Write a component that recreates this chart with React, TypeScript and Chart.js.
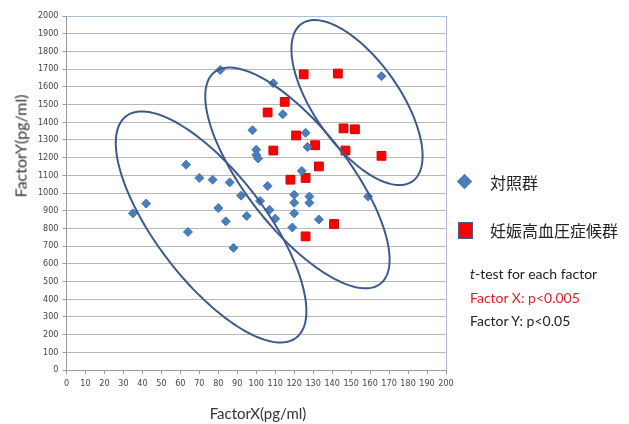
import React, { useEffect, useRef } from "react";
import { Chart, registerables } from "chart.js";

Chart.register(...registerables);

// Control group (対照群)
const controlX = [35, 42, 63, 64, 70, 77, 80, 84, 86, 88, 92, 95, 98, 100, 100, 101, 102, 106, 107, 110, 109, 114, 81, 119, 120, 120, 120, 124, 126, 127, 128, 128, 133, 159, 166];
const controlY = [885, 940, 1160, 780, 1085, 1075, 915, 840, 1060, 690, 985, 870, 1355, 1245, 1215, 1195, 955, 1040, 905, 855, 1620, 1445, 1695, 805, 990, 945, 885, 1125, 1340, 1260, 980, 945, 850, 980, 1660];

// Pregnancy-induced hypertension group (妊娠高血圧症候群)
const pihX = [125, 143, 115, 106, 146, 152, 121, 131, 109, 147, 166, 133, 118, 126, 141, 126];
const pihY = [1670, 1675, 1515, 1455, 1365, 1360, 1325, 1270, 1240, 1240, 1210, 1150, 1075, 1085, 825, 755];

// Ellipses in data units: centre and two conjugate semi-diameters
const ellipseCX = [76.2, 121.7, 153.1];
const ellipseCY = [808, 1085, 1511];
const ellipseUX = [44.8, 43.7, 29.2];
const ellipseUY = [-626, -598, -445];
const ellipseVX = [-22.7, -21.2, -18.5];
const ellipseVY = [-185, -177, -139];

const xTickMin = 0;
const xTickMax = 200;
const xTickStep = 10;
const yTickMin = 0;
const yTickMax = 2000;
const yTickStep = 100;

const ellipsePlugin = {
  id: "ellipses",
  afterDatasetsDraw(chart: any) {
    const { ctx, scales } = chart;
    const xs = scales.x;
    const ys = scales.y;
    ctx.save();
    ctx.strokeStyle = "#3c5a8a";
    ctx.lineWidth = 2;
    for (let i = 0; i < ellipseCX.length; i++) {
      ctx.beginPath();
      const n = 160;
      for (let k = 0; k <= n; k++) {
        const t = (k / n) * Math.PI * 2;
        const dx = ellipseCX[i] + ellipseUX[i] * Math.cos(t) + ellipseVX[i] * Math.sin(t);
        const dy = ellipseCY[i] + ellipseUY[i] * Math.cos(t) + ellipseVY[i] * Math.sin(t);
        const px = xs.getPixelForValue(dx);
        const py = ys.getPixelForValue(dy);
        if (k === 0) ctx.moveTo(px, py);
        else ctx.lineTo(px, py);
      }
      ctx.closePath();
      ctx.stroke();
    }
    ctx.restore();
  },
};

const borderPlugin = {
  id: "rightBorder",
  beforeDatasetsDraw(chart: any) {
    const { ctx, chartArea } = chart;
    ctx.save();
    ctx.strokeStyle = "#a9bedb";
    ctx.lineWidth = 1;
    ctx.beginPath();
    ctx.moveTo(Math.round(chartArea.right) + 0.5, chartArea.top);
    ctx.lineTo(Math.round(chartArea.right) + 0.5, chartArea.bottom);
    ctx.stroke();
    ctx.restore();
  },
};

export default function App() {
  const ref = useRef<HTMLCanvasElement | null>(null);

  useEffect(() => {
    if (!ref.current) return;
    const tickFont = { family: "'Liberation Sans Narrow', 'DejaVu Sans Condensed', sans-serif", size: 9 };
    const chart = new Chart(ref.current, {
      type: "scatter",
      data: {
        datasets: [
          {
            label: "対照群",
            data: controlX.map((x, i) => ({ x, y: controlY[i] })),
            pointStyle: "rectRot",
            radius: 4.5,
            backgroundColor: "#4a7ebb",
            borderColor: "#4578b5",
            borderWidth: 1,
          },
          {
            label: "妊娠高血圧症候群",
            data: pihX.map((x, i) => ({ x, y: pihY[i] })),
            pointStyle: "rect",
            radius: 6.2,
            backgroundColor: "#ff0000",
            borderColor: "#d00000",
            borderWidth: 1,
          },
        ],
      },
      options: {
        responsive: false,
        animation: false,
        layout: { padding: { left: 0, right: 183, top: 16, bottom: 0 } },
        plugins: { legend: { display: false }, tooltip: { enabled: false } },
        scales: {
          x: {
            type: "linear",
            min: xTickMin,
            max: xTickMax,
            ticks: {
              stepSize: xTickStep,
              font: tickFont,
              color: "#444",
              padding: 4,
              maxRotation: 0,
              autoSkip: false,
              callback: (v: any) => String(v),
            },
            grid: { drawOnChartArea: false, drawTicks: true, tickLength: 4, tickColor: "#9a9a9a" },
            border: { color: "#9a9a9a", width: 1 },
            afterFit(scale: any) {
              scale.height = 54;
            },
          },
          y: {
            type: "linear",
            min: yTickMin,
            max: yTickMax,
            ticks: {
              stepSize: yTickStep,
              font: tickFont,
              color: "#444",
              padding: 4,
              autoSkip: false,
              callback: (v: any) => String(v),
            },
            grid: {
              color: (c: any) => (c.tick && c.tick.value === yTickMax ? "#a9bedb" : "#b8b8b8"),
              lineWidth: 1,
              drawTicks: true,
              tickLength: 4,
              tickColor: "#9a9a9a",
            },
            border: { color: "#9a9a9a", width: 1 },
            afterFit(scale: any) {
              scale.width = 66.5;
            },
          },
        },
      },
      plugins: [borderPlugin, ellipsePlugin],
    });
    return () => chart.destroy();
  }, []);

  const textFont = "Lato, 'Open Sans', sans-serif";
  const cjkFont = "'Noto Sans CJK JP', 'Noto Sans CJK SC', sans-serif";

  return (
    <div style={{ position: "fixed", left: 0, top: 0, width: 629, height: 424, background: "#fff", overflow: "hidden" }}>
      <canvas ref={ref} width={629} height={424} style={{ position: "absolute", left: 0, top: 0, width: 629, height: 424 }} />
      {/* Y axis title */}
      <div
        style={{
          position: "absolute",
          left: 20,
          top: 146,
          transform: "translate(-50%, -50%) rotate(-90deg)",
          fontFamily: textFont,
          fontSize: 16,
          fontWeight: 400,
          color: "#333",
          whiteSpace: "nowrap",
        }}
      >
        FactorY(pg/ml)
      </div>
      {/* X axis title */}
      <div
        style={{
          position: "absolute",
          left: 258,
          top: 413,
          transform: "translate(-50%, -50%)",
          fontFamily: textFont,
          fontSize: 15,
          fontWeight: 400,
          color: "#333",
          whiteSpace: "nowrap",
        }}
      >
        FactorX(pg/ml)
      </div>
      {/* Legend */}
      <div style={{ position: "absolute", left: 459, top: 176, width: 11, height: 11, background: "#4a7ebb", transform: "rotate(45deg)" }} />
      <div style={{ position: "absolute", left: 490, top: 182, transform: "translateY(-50%)", fontFamily: cjkFont, fontSize: 16, color: "#222", whiteSpace: "nowrap" }}>
        対照群
      </div>
      <div style={{ position: "absolute", left: 458, top: 222, width: 13, height: 15, background: "#ff0000", border: "1.5px solid #4a5a82" }} />
      <div style={{ position: "absolute", left: 490, top: 230, transform: "translateY(-50%)", fontFamily: cjkFont, fontSize: 16, color: "#222", whiteSpace: "nowrap" }}>
        妊娠高血圧症候群
      </div>
      {/* Stats text */}
      <div style={{ position: "absolute", left: 470, top: 273, transform: "translateY(-50%)", fontFamily: textFont, fontSize: 14, color: "#222", whiteSpace: "nowrap" }}>
        <i>t</i>-test for each factor
      </div>
      <div style={{ position: "absolute", left: 470, top: 297, transform: "translateY(-50%)", fontFamily: textFont, fontSize: 14, color: "#d9232b", whiteSpace: "nowrap" }}>
        Factor X: p&lt;0.005
      </div>
      <div style={{ position: "absolute", left: 470, top: 320, transform: "translateY(-50%)", fontFamily: textFont, fontSize: 14, color: "#222", whiteSpace: "nowrap" }}>
        Factor Y: p&lt;0.05
      </div>
    </div>
  );
}
